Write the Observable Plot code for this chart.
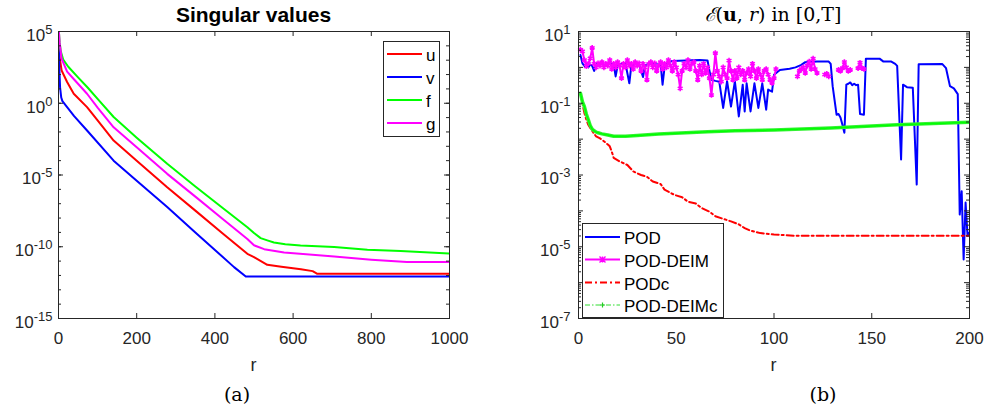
<!DOCTYPE html>
<html><head><meta charset="utf-8">
<script src="https://cdn.jsdelivr.net/npm/d3@7"></script>
<script src="https://cdn.jsdelivr.net/npm/@observablehq/plot@0.6"></script>
<style>
html,body{margin:0;padding:0;background:#fff;}
#root{position:relative;width:985px;height:417px;overflow:hidden;background:#fff;}
#left,#right{position:absolute;top:0;}
#left{left:0;} #right{left:500px;}
#overlay{position:absolute;left:0;top:0;pointer-events:none;}
</style></head>
<body><div id="root"><div id="left"></div><div id="right"></div>
<svg id="overlay" width="985" height="417"></svg></div>
<script>
// ---------------- Panel (a): singular values ----------------
const uR = [1, 3, 8, 22, 39, 73, 100, 141, 200, 278, 350, 420, 483, 500, 534, 570, 620, 650, 662, 1000];
const uV = [1.4e4, 1.6e3, 190, 30, 4.6, 0.54, 6.3e-2, 2.5e-3, 1e-4, 1.4e-6, 3.3e-8, 8.5e-10, 3.2e-11, 1.9e-11, 5.5e-12, 4e-12, 2.75e-12, 2e-12, 1.3e-12, 1.3e-12];
const vR = [1, 2, 4, 7, 10, 22, 40, 73, 141, 200, 278, 350, 449, 479, 1000];
const vV = [8e3, 316, 13, 2.5, 1.4, 0.54, 0.126, 1.26e-2, 1e-4, 4e-6, 5.8e-8, 1e-9, 3.8e-12, 8.5e-13, 8.5e-13];
const fR = [1, 3, 6, 12, 25, 50, 75, 100, 141, 200, 278, 350, 420, 483, 500, 517, 534, 551, 580, 619, 705, 790, 875, 1000];
const fV = [1e5, 1.6e4, 4e3, 1.1e3, 350, 63, 12, 2, 0.11, 4e-3, 6e-5, 1.6e-6, 5e-8, 2.3e-9, 9e-10, 4e-10, 2.8e-10, 2e-10, 1.5e-10, 1.2e-10, 9.5e-11, 6.3e-11, 5e-11, 3.4e-11];
const gR = [1, 3, 8, 22, 40, 73, 100, 141, 200, 278, 350, 420, 483, 500, 526, 577, 705, 800, 891, 1000];
const gV = [1e5, 1.6e4, 1.26e3, 160, 45, 4.6, 0.5, 2.1e-2, 8.5e-4, 1.2e-5, 3.1e-7, 8.7e-9, 3.5e-10, 1.26e-10, 6.8e-11, 4e-11, 2.1e-11, 1.26e-11, 8.5e-12, 8.5e-12];
const leftXTicks = [0, 200, 400, 600, 800, 1000];
const leftYLabels = [1e5, 1e0, 1e-5, 1e-10, 1e-15];
const leftSeriesNames = ["u", "v", "f", "g"];
const leftColors = ["#ff0000", "#0000ff", "#00ff00", "#ff00ff"];

// ---------------- Panel (b): E(u,r) in [0,T] ----------------
const podR = [1,2,3,4,5,6,7,8,9,10,12,14,16,18,19,20,22,24,26,27,29,31,33,34,36,38,40,42,43,44,46,48,55,62,66,67,68,70,72,74,76,78,80,82,84,85,86,88,90,92,94,96,97,99,100,103,108,111,114,116,122,128,129,130,132,133,134,135,136,137,138,139,140,141,142,143,144,146,147,154,156,160,162,163,165,166,168,171,173,174,186,188,190,192,194,195,196,197,198,199,200];
const podV = [2.2,1.3,1.1,1.25,1.0,1.2,1.1,0.8,1.2,1.3,1.25,1.1,1.3,1.2,0.56,1.1,1.25,1.3,0.36,1.1,1.25,1.2,0.54,1.15,1.25,1.3,1.2,1.25,0.33,1.0,1.4,1.5,1.55,1.6,1.55,0.8,0.45,0.42,0.4,0.074,0.41,0.081,0.41,0.043,0.33,0.059,0.36,0.059,0.36,0.074,0.36,0.066,0.24,0.21,0.62,0.85,0.91,1.0,1.17,1.4,1.45,1.45,1.25,0.3,0.048,0.05,0.04,0.025,0.015,0.33,0.35,0.38,0.32,0.35,0.32,0.33,0.05,0.048,1.75,1.75,1.45,1.45,1.25,1.1,0.0027,0.33,0.28,0.27,0.00054,1.23,1.25,0.95,0.3,0.26,0.18,7.9e-5,3.5e-4,4.4e-6,1.7e-4,2e-5,2.5e-5];
// POD-DEIM, r = 1..146 (null = not computed)
const podDeimV = [3.1,2.8,1.6,1.07,1.26,1.78,3.5,1.26,1.0,1.3,1.12,1.4,1.0,1.26,1.12,1.6,0.9,1.26,1.0,1.4,
 1.12,0.5,1.26,1.0,1.6,1.12,1.26,0.9,1.4,1.12,1.3,0.8,1.26,1.0,0.45,1.26,1.4,1.0,1.3,0.8,
 1.12,1.4,0.9,1.26,1.0,1.6,1.12,0.8,1.4,1.0,0.63,0.26,0.8,1.26,1.0,1.6,0.9,1.26,1.4,0.8,
 0.45,1.12,0.63,1.26,0.7,1.0,0.5,0.17,0.63,2.5,0.8,0.56,0.4,1.0,0.63,0.5,1.55,0.8,0.45,0.8,
 0.5,1.0,0.63,0.8,0.45,0.7,0.9,0.56,1.26,0.8,0.5,0.9,0.63,0.45,0.8,0.9,0.63,0.45,0.37,0.5,
 0.9,null,null,null,null,null,null,null,null,null,null,0.56,0.8,0.9,1.0,0.7,1.12,1.45,0.9,1.75,
 0.9,0.7,null,null,null,0.63,0.66,0.56,null,null,null,null,0.85,0.8,0.95,1.41,1.0,0.8,0.85,null,
 null,null,0.95,1.35,0.95,0.9];
const podcR = [1,2,3,4,5,6,8,9,11,13,15,16,17,18,21,25,28,32,35,38,42,44,49,53,56,60,63,67,70,74,78,82,85,88,93,100,110,200];
const podcV = [0.19,0.1,0.054,0.035,0.025,0.0204,0.014,0.012,0.0105,0.0087,0.0071,0.0063,0.0045,0.003,0.0024,0.0019,0.00126,0.001,8.9e-4,6.6e-4,5.6e-4,3.9e-4,2.8e-4,2.4e-4,1.8e-4,1.6e-4,1.2e-4,9.5e-5,7.1e-5,6e-5,5.1e-5,4.2e-5,3.3e-5,2.8e-5,2.4e-5,2.2e-5,2.04e-5,2.04e-5];
const podDeimcR = [1,2,3,4,5,6,7,8,9,10,12,15,18,24,30,41,55,66,80,100,129,163,200];
const podDeimcV = [0.19,0.11,0.081,0.05,0.035,0.024,0.019,0.017,0.0158,0.015,0.014,0.013,0.012,0.012,0.0126,0.0138,0.015,0.016,0.017,0.018,0.0204,0.025,0.0295];
const rightXTicks = [0, 50, 100, 150, 200];
const rightYLabels = [1e1, 1e-1, 1e-3, 1e-5, 1e-7];
const rightNames = ["POD", "POD-DEIM", "PODc", "POD-DEIMc"];
const rightColors = ["#0000ff", "#ff00ff", "#ff0000", "#00ff00"];

// ---------------- helpers ----------------
const FONT = "'Liberation Sans', Arial, Helvetica, sans-serif";
const INK = "#262626";
const rows = (R, V) => R.map((r, i) => ({r, v: V[i] == null ? NaN : V[i]}));

function boxTicks(xTicks, yMajor, yMinor, W, H) {
  const M = 5, m = 3, o = {stroke: INK, strokeWidth: 1};
  return [
    Plot.tickX(xTicks, {x: d => d, insetTop: H - M, ...o}),
    Plot.tickX(xTicks, {x: d => d, insetBottom: H - M, ...o}),
    Plot.tickY(yMajor, {y: d => d, insetRight: W - M, ...o}),
    Plot.tickY(yMajor, {y: d => d, insetLeft: W - M, ...o}),
    Plot.tickY(yMinor, {y: d => d, insetRight: W - m, ...o}),
    Plot.tickY(yMinor, {y: d => d, insetLeft: W - m, ...o})
  ];
}
function labelAxes(xTicks, yLabels, pad) {
  return [
    Plot.axisX({ticks: xTicks, tickSize: 0, tickPadding: 13, tickFormat: d => String(d), label: null}),
    Plot.axisY({ticks: yLabels, tickSize: 0, tickPadding: pad, dy: 4, tickFormat: d => String(Math.round(Math.log10(d))), label: null})
  ];
}
function superscripts(svg) {
  svg.querySelectorAll('g[aria-label="y-axis tick label"] text').forEach(t => {
    const e = t.textContent;
    t.textContent = "10";
    const s = document.createElementNS("http://www.w3.org/2000/svg", "tspan");
    s.setAttribute("dy", "-7");
    s.setAttribute("font-size", "13px");
    s.textContent = e;
    t.appendChild(s);
  });
}
const style = {fontFamily: FONT, fontSize: "17px", color: INK, background: "transparent", overflow: "visible"};

// ---------------- left plot ----------------
{
  const W = 391, H = 287;
  const decades = d3.range(-15, 6).map(e => 10 ** e);
  const leftData = [[uR, uV], [vR, vV], [fR, fV], [gR, gV]];
  const svg = Plot.plot({
    width: 480, height: 360,
    marginLeft: 58, marginRight: 31, marginTop: 31, marginBottom: 42,
    style,
    x: {domain: [0, 1000]},
    y: {type: "log", domain: [1e-15, 1e5]},
    marks: [
      ...leftData.map(([R, V], i) => Plot.line(rows(R, V), {x: "r", y: "v", stroke: leftColors[i], strokeWidth: 2, clip: true})),
      Plot.frame({stroke: INK, strokeWidth: 1}),
      ...boxTicks(leftXTicks, leftYLabels, decades, W, H),
      ...labelAxes(leftXTicks, leftYLabels, 6)
    ]
  });
  superscripts(svg);
  document.getElementById("left").appendChild(svg);
}

// ---------------- right plot ----------------
{
  const W = 391, H = 287;
  const decades = d3.range(-7, 2).map(e => 10 ** e);
  const minor = [];
  for (let e = -7; e < 1; e++) for (let k = 2; k <= 9; k++) minor.push(k * 10 ** e);
  const deim = rows(d3.range(1, podDeimV.length + 1), podDeimV);
  const svg = Plot.plot({
    width: 485, height: 360,
    marginLeft: 78, marginRight: 16, marginTop: 31, marginBottom: 42,
    style,
    x: {domain: [0, 200]},
    y: {type: "log", domain: [1e-7, 10]},
    marks: [
      Plot.line(rows(podR, podV), {x: "r", y: "v", stroke: rightColors[0], strokeWidth: 2, clip: true}),
      Plot.line(deim, {x: "r", y: "v", stroke: rightColors[1], strokeWidth: 2, clip: true}),
      Plot.dot(deim.filter(d => !isNaN(d.v)), {x: "r", y: "v", symbol: "asterisk", r: 2.6, stroke: rightColors[1], strokeWidth: 1.6}),
      Plot.line(rows(podcR, podcV), {x: "r", y: "v", stroke: rightColors[2], strokeWidth: 2, strokeDasharray: "7,3,2,3", clip: true}),
      Plot.line(rows(podDeimcR, podDeimcV), {x: "r", y: "v", stroke: "#33f033", strokeWidth: 3.5, clip: true}),
      Plot.line(rows(podDeimcR, podDeimcV), {x: "r", y: "v", stroke: "#00ff00", strokeWidth: 1.5, strokeDasharray: "2,1", clip: true}),
      Plot.frame({stroke: INK, strokeWidth: 1}),
      ...boxTicks(rightXTicks, decades, minor, W, H),
      ...labelAxes(rightXTicks, rightYLabels, 8)
    ]
  });
  superscripts(svg);
  document.getElementById("right").appendChild(svg);
}

// ---------------- titles, labels, legends ----------------
{
  const NS = "http://www.w3.org/2000/svg";
  const ov = document.getElementById("overlay");
  const add = (tag, attrs, text) => {
    const el = document.createElementNS(NS, tag);
    for (const k in attrs) el.setAttribute(k, attrs[k]);
    if (text != null) el.textContent = text;
    ov.appendChild(el);
    return el;
  };
  add("text", {x: 253.5, y: 22, "text-anchor": "middle", "font-family": FONT, "font-weight": "bold", "font-size": 21, fill: "#000"}, "Singular values");
  const t = add("text", {x: 773, y: 21, "text-anchor": "middle", "font-family": "'DejaVu Serif', serif", "font-size": 19, fill: "#000", style: "white-space:pre"});
  t.innerHTML = '<tspan font-style="italic">ℰ</tspan>(<tspan font-weight="bold">u</tspan>, <tspan font-style="italic">r</tspan>) in [0,T]';
  add("text", {x: 253.5, y: 371, "text-anchor": "middle", "font-family": FONT, "font-size": 18, fill: INK}, "r");
  add("text", {x: 773.5, y: 371, "text-anchor": "middle", "font-family": FONT, "font-size": 18, fill: INK}, "r");
  add("text", {x: 237, y: 401, "text-anchor": "middle", "font-family": "'DejaVu Serif', serif", "font-size": 19, fill: "#000"}, "(a)");
  add("text", {x: 823, y: 401, "text-anchor": "middle", "font-family": "'DejaVu Serif', serif", "font-size": 19, fill: "#000"}, "(b)");

  // left legend
  add("rect", {x: 383.5, y: 41.5, width: 56, height: 95, fill: "#fff", stroke: INK, "stroke-width": 1});
  leftSeriesNames.forEach((n, i) => {
    const y = 54 + i * 23;
    add("line", {x1: 387, x2: 422, y1: y, y2: y, stroke: leftColors[i], "stroke-width": 2});
    add("text", {x: 426, y: y + 7, "font-family": FONT, "font-size": 17, fill: "#000"}, n);
  });
  // right legend
  add("rect", {x: 582.5, y: 223.5, width: 141, height: 94, fill: "#fff", stroke: INK, "stroke-width": 1});
  const ry = [237, 259.5, 282.5, 305];
  rightNames.forEach((n, i) => {
    const y = ry[i];
    const a = {x1: 585, x2: 620, y1: y, y2: y, stroke: rightColors[i], "stroke-width": 2};
    if (i === 2) a["stroke-dasharray"] = "7,3,2,3";
    if (i === 3) { a["stroke-dasharray"] = "5,2,1.5,2"; a["stroke-width"] = 1; a.stroke = "#33dd33"; }
    add("line", a);
    if (i === 1) add("path", {d: `M${602.5-3},${y}h6M${602.5},${y-3}v6M${599.5},${y-3}l6,6M${599.5},${y+3}l6,-6`, stroke: rightColors[1], "stroke-width": 1.4});
    if (i === 3) add("path", {d: `M${602.5-2.5},${y}h5M${602.5},${y-2.5}v5`, stroke: "#22cc22", "stroke-width": 1.2});
    add("text", {x: 624, y: y + 7, "font-family": FONT, "font-size": 17, fill: "#000"}, n);
  });
}
</script>
</body></html>
